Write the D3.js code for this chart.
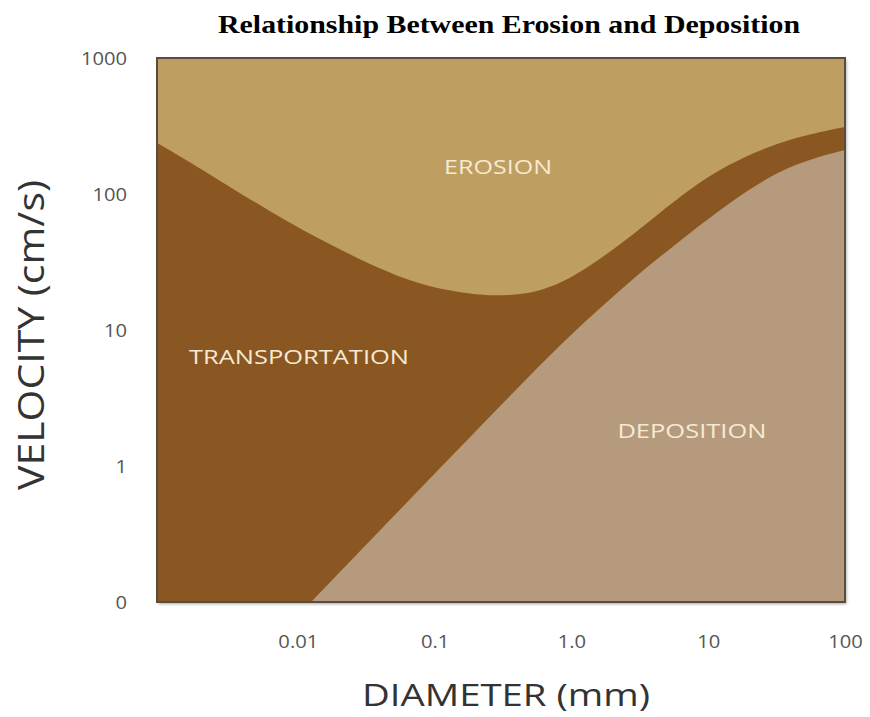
<!DOCTYPE html>
<html><head><meta charset="utf-8">
<script src="https://cdn.jsdelivr.net/npm/d3@7"></script>
<style>
body{margin:0;background:#fff;}
text{font-family:"Open Sans",sans-serif;}
</style>
</head><body>
<svg id="chart" width="870" height="717"></svg>
<script>
// ---- data ----
const erosionDiameter = [0.00094, 0.0022, 0.0065, 0.02, 0.061, 0.14, 0.25, 0.41, 0.62, 0.94, 1.55, 2.56, 4.23, 7.35, 13.6, 26.7, 52, 100];
const erosionVelocity = [237, 143, 72, 39, 23, 19, 17.8, 18.1, 19.7, 23.3, 32.1, 46.7, 70.1, 109, 163, 222, 272, 311];
const depositionDiameter = [0.0125, 0.098, 0.406, 0.794, 1.55, 3.03, 5.92, 11.6, 22.5, 44, 100];
const depositionVelocity = [0.1, 0.86, 3.75, 7.5, 14.0, 25.4, 43.6, 73.7, 118.5, 169, 211];
const xTickValues = [0.01, 0.1, 1, 10, 100];
const xTickLabels = ["0.01", "0.1", "1.0", "10", "100"];
const yTickValues = [1000, 100, 10, 1, 0.1];
const yTickLabels = ["1000", "100", "10", "1", "0"];
const regionNames = ["EROSION", "TRANSPORTATION", "DEPOSITION"];
const regionDiameter = [0.291, 0.0102, 7.6];
const regionVelocity = [140, 5.6, 1.61];
const titleText = "Relationship Between Erosion and Deposition";
const xTitle = "DIAMETER (mm)";
const yTitle = "VELOCITY (cm/s)";

// ---- layout ----
const L = 157, R = 845, T = 58, B = 602;
const colErosion = "#bf9e62", colTransport = "#8a5722", colDeposition = "#b59a7d";

const svg = d3.select("#chart");
const x = d3.scaleLog().domain([0.000935, 100]).range([L, R]);
const y = d3.scaleLog().domain([0.1, 1000]).range([B, T]);

function stretch(sel, f) {
  sel.each(function () {
    const w = this.getComputedTextLength();
    this.setAttribute("textLength", w * f);
    this.setAttribute("lengthAdjust", "spacingAndGlyphs");
  });
}

const defs = svg.append("defs");
const flt = defs.append("filter").attr("id", "sh").attr("x", "-5%").attr("y", "-5%").attr("width", "110%").attr("height", "110%");
flt.append("feDropShadow").attr("dx", 1.5).attr("dy", 2).attr("stdDeviation", 1.5).attr("flood-color", "#000").attr("flood-opacity", 0.35);
defs.append("clipPath").attr("id", "clip").append("rect")
  .attr("x", L).attr("y", T).attr("width", R - L).attr("height", B - T);

svg.append("rect").attr("x", L).attr("y", T).attr("width", R - L).attr("height", B - T)
  .attr("fill", colErosion).attr("filter", "url(#sh)");

const g = svg.append("g").attr("clip-path", "url(#clip)");

const area1 = d3.area().x(d => x(d[0])).y0(y(0.1)).y1(d => y(d[1])).curve(d3.curveBasis);

const erosionPts = erosionDiameter.map((d, i) => [d, erosionVelocity[i]]);
g.append("path").datum(erosionPts).attr("d", area1).attr("fill", colTransport);

const depPts = depositionDiameter.map((d, i) => [d, depositionVelocity[i]]);
g.append("path").datum(depPts).attr("d", area1).attr("fill", colDeposition);

svg.append("rect").attr("x", L).attr("y", T).attr("width", R - L).attr("height", B - T)
  .attr("fill", "none").attr("stroke", "#5a4d40").attr("stroke-width", 2);

const regionWidths = [108, 220, 149];
regionNames.forEach((n, i) => {
  svg.append("text").attr("x", x(regionDiameter[i])).attr("y", y(regionVelocity[i]))
    .attr("text-anchor", "middle").attr("font-size", 20).attr("fill", "#f6ead2")
    .attr("textLength", regionWidths[i]).attr("lengthAdjust", "spacingAndGlyphs")
    .text(n);
});

const xAxis = d3.axisBottom(x).tickValues(xTickValues).tickSize(0).tickPadding(0)
  .tickFormat((d, i) => xTickLabels[i]);
const gx = svg.append("g").attr("transform", `translate(0,${B})`).call(xAxis);
gx.select(".domain").remove();
gx.selectAll("text").attr("font-size", 18).attr("fill", "#555").attr("dy", 0).attr("y", 46)
  .style("font-family", "'Open Sans',sans-serif");
stretch(gx.selectAll("text"), 1.12);

const yAxis = d3.axisLeft(y).tickValues(yTickValues).tickSize(0).tickPadding(0)
  .tickFormat((d, i) => yTickLabels[i]);
const gy = svg.append("g").attr("transform", `translate(${L - 30},0)`).call(yAxis);
gy.select(".domain").remove();
gy.selectAll("text").attr("font-size", 18).attr("fill", "#555").attr("x", 0).attr("dy", "0.36em")
  .style("font-family", "'Open Sans',sans-serif");
stretch(gy.selectAll("text"), 1.12);

svg.append("text").attr("x", 506).attr("y", 706).attr("text-anchor", "middle")
  .attr("font-size", 31).attr("fill", "#333")
  .attr("textLength", 288).attr("lengthAdjust", "spacingAndGlyphs").text(xTitle);
svg.append("text").attr("transform", "translate(44,335) rotate(-90)").attr("text-anchor", "middle")
  .attr("font-size", 36).attr("fill", "#333")
  .attr("textLength", 310).attr("lengthAdjust", "spacingAndGlyphs").text(yTitle);

svg.append("text").attr("x", 509).attr("y", 33).attr("text-anchor", "middle")
  .style("font-family", "'Liberation Serif','Times New Roman',serif")
  .attr("font-weight", "bold").attr("font-size", 25).attr("fill", "#000")
  .attr("textLength", 582).attr("lengthAdjust", "spacingAndGlyphs").text(titleText);
</script>
</body></html>
